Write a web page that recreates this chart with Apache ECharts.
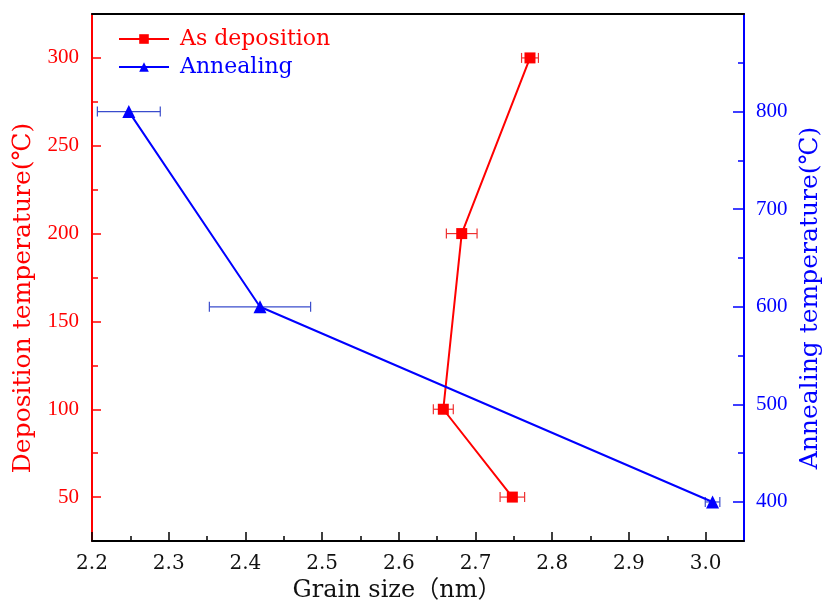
<!DOCTYPE html>
<html>
<head>
<meta charset="utf-8">
<script src="https://cdn.jsdelivr.net/npm/echarts@6/dist/echarts.min.js"></script>
<style>html,body{margin:0;padding:0;background:#fff;}#c{width:827px;height:606px;}</style>
</head>
<body>
<div id="c"></div>
<script>
// Data
const depGrain = [2.748, 2.658, 2.682, 2.771];
const depTemp = [50, 100, 200, 300];
const depErr = [0.016, 0.013, 0.02, 0.011];

const annGrain = [3.009, 2.419, 2.248];
const annTemp = [400, 600, 800];
const annErr = [0.0095, 0.066, 0.041];

const xTicks = [2.2, 2.3, 2.4, 2.5, 2.6, 2.7, 2.8, 2.9, 3.0];
const xMinorTicks = [2.25, 2.35, 2.45, 2.55, 2.65, 2.75, 2.85, 2.95];
const leftTicks = [50, 100, 150, 200, 250, 300];
const leftMinorTicks = [75, 125, 175, 225, 275];
const rightTicks = [400, 500, 600, 700, 800];
const rightMinorTicks = [450, 550, 650, 750, 850];

const RED = '#ff0000';
const BLUE = '#0000ff';
const RED_ERR = '#ee3030';
const BLUE_ERR = '#3a4ccc';

const chart = echarts.init(document.getElementById('c'), null, {renderer: 'canvas'});

function errRender(color) {
  return function (params, api) {
    const x = api.value(0), y = api.value(1), e = api.value(2);
    const p1 = api.coord([x - e, y]);
    const p2 = api.coord([x + e, y]);
    const h = 5;
    const st = {stroke: color, lineWidth: 1.2};
    return {
      type: 'group',
      children: [
        {type: 'line', shape: {x1: p1[0], y1: p1[1], x2: p2[0], y2: p2[1]}, style: st},
        {type: 'line', shape: {x1: p1[0], y1: p1[1] - h, x2: p1[0], y2: p1[1] + h}, style: st},
        {type: 'line', shape: {x1: p2[0], y1: p2[1] - h, x2: p2[0], y2: p2[1] + h}, style: st}
      ]
    };
  };
}

const serifFont = "'DejaVu Serif', 'Noto Sans CJK SC', serif";
const tickFont = "'Liberation Serif', serif";

const option = {
  animation: false,
  backgroundColor: '#fff',
  grid: {left: 92, right: 83, top: 14, bottom: 65, containLabel: false},
  legend: {
    orient: 'vertical',
    left: 118,
    top: 28,
    padding: 0,
    itemWidth: 50,
    itemHeight: 12,
    itemGap: 6,
    textStyle: {fontFamily: serifFont, fontSize: 22, padding: [0, 0, 0, 6]},
    data: [
      {name: 'As deposition', textStyle: {color: RED}},
      {name: 'Annealing', textStyle: {color: BLUE}}
    ]
  },
  xAxis: [
    {
      type: 'value', min: 2.2, max: 3.05, position: 'bottom',
      axisLine: {show: true, onZero: false, lineStyle: {color: '#000', width: 2}},
      axisTick: {show: true, inside: true, length: 9, customValues: xTicks, lineStyle: {color: '#000', width: 1.5}},
      axisLabel: {customValues: xTicks, formatter: v => v.toFixed(1), margin: 13, fontFamily: serifFont, fontSize: 20, color: '#111'},
      splitLine: {show: false}
    },
    {
      type: 'value', min: 2.2, max: 3.05, position: 'bottom',
      axisLine: {show: false, onZero: false},
      axisTick: {show: true, inside: true, length: 5, customValues: xMinorTicks, lineStyle: {color: '#000', width: 1.5}},
      axisLabel: {show: false},
      splitLine: {show: false}
    },
    {
      type: 'value', min: 2.2, max: 3.05, position: 'top',
      axisLine: {show: true, onZero: false, lineStyle: {color: '#000', width: 2}},
      axisTick: {show: false},
      axisLabel: {show: false},
      splitLine: {show: false}
    }
  ],
  yAxis: [
    {
      type: 'value', min: 25, max: 325, position: 'left',
      axisLine: {show: true, onZero: false, lineStyle: {color: RED, width: 2}},
      axisTick: {show: true, inside: true, length: 9, customValues: leftTicks, lineStyle: {color: RED, width: 1.5}},
      axisLabel: {customValues: leftTicks, margin: 13, fontFamily: tickFont, fontSize: 21, color: RED},
      splitLine: {show: false}
    },
    {
      type: 'value', min: 360, max: 900, position: 'right',
      axisLine: {show: true, onZero: false, lineStyle: {color: BLUE, width: 2}},
      axisTick: {show: true, inside: true, length: 11, customValues: rightTicks, lineStyle: {color: BLUE, width: 1.5}},
      axisLabel: {customValues: rightTicks, margin: 12, fontFamily: tickFont, fontSize: 21, color: BLUE},
      splitLine: {show: false}
    },
    {
      type: 'value', min: 25, max: 325, position: 'left',
      axisLine: {show: false, onZero: false},
      axisTick: {show: true, inside: true, length: 6, customValues: leftMinorTicks, lineStyle: {color: RED, width: 1.5}},
      axisLabel: {show: false},
      splitLine: {show: false}
    },
    {
      type: 'value', min: 360, max: 900, position: 'right',
      axisLine: {show: false, onZero: false},
      axisTick: {show: true, inside: true, length: 6, customValues: rightMinorTicks, lineStyle: {color: BLUE, width: 1.5}},
      axisLabel: {show: false},
      splitLine: {show: false}
    }
  ],
  graphic: [
    {
      type: 'text', x: 23, y: 298, rotation: Math.PI / 2,
      style: {text: 'Deposition temperature(℃)', fill: RED, font: "25px 'DejaVu Serif', 'Noto Sans CJK SC', serif", textAlign: 'center', textVerticalAlign: 'middle'}
    },
    {
      type: 'text', x: 810, y: 298, rotation: Math.PI / 2,
      style: {text: 'Annealing temperature(℃)', fill: BLUE, font: "25px 'DejaVu Serif', 'Noto Sans CJK SC', serif", textAlign: 'center', textVerticalAlign: 'middle'}
    },
    {
      type: 'text', x: 397, y: 591,
      style: {text: 'Grain size（nm）', fill: '#111', font: "24px 'DejaVu Serif', 'Noto Sans CJK SC', serif", textAlign: 'center', textVerticalAlign: 'middle'}
    }
  ],
  series: [
    {
      type: 'custom', name: 'depErr', xAxisIndex: 0, yAxisIndex: 0, z: 1,
      renderItem: errRender(RED_ERR),
      encode: {x: 0, y: 1},
      data: depGrain.map((g, i) => [g, depTemp[i], depErr[i]])
    },
    {
      type: 'custom', name: 'annErr', xAxisIndex: 0, yAxisIndex: 1, z: 1,
      renderItem: errRender(BLUE_ERR),
      encode: {x: 0, y: 1},
      data: annGrain.map((g, i) => [g, annTemp[i], annErr[i]])
    },
    {
      type: 'line', name: 'As deposition', xAxisIndex: 0, yAxisIndex: 0, z: 3,
      symbol: 'rect', symbolSize: 11, showAllSymbol: true,
      lineStyle: {color: RED, width: 2}, itemStyle: {color: RED},
      data: depGrain.map((g, i) => [g, depTemp[i]])
    },
    {
      type: 'line', name: 'Annealing', xAxisIndex: 0, yAxisIndex: 1, z: 3,
      symbol: 'triangle', symbolSize: 13, showAllSymbol: true,
      lineStyle: {color: BLUE, width: 2}, itemStyle: {color: BLUE},
      data: annGrain.map((g, i) => [g, annTemp[i]])
    }
  ]
};
chart.setOption(option);
</script>
</body>
</html>
